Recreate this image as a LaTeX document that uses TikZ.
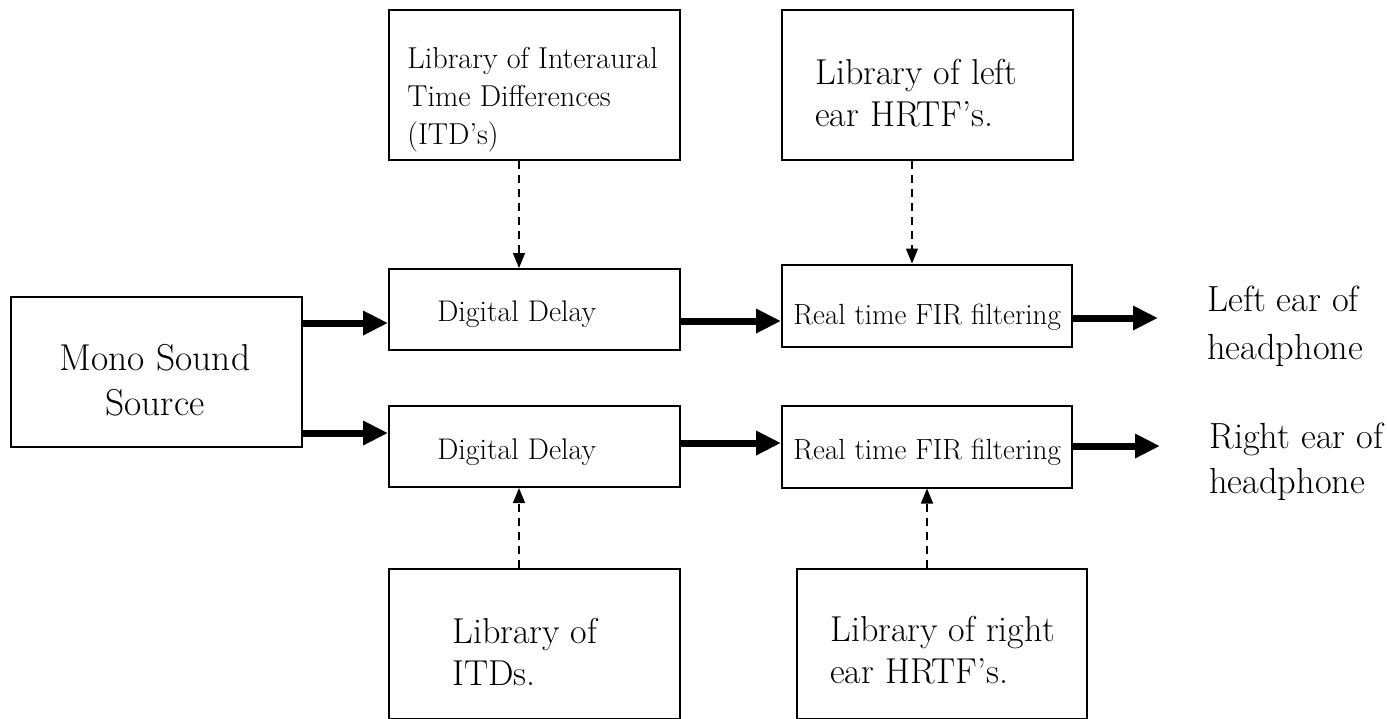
\documentclass[tikz,border=0pt]{standalone}
\usepackage{tikz}
\usetikzlibrary{arrows.meta}
\tikzset{
libbox/.style={rectangle, draw=black, line width=0.04cm, fill=none, inner sep=0pt, minimum width=5.82cm, minimum height=3cm},
delaybox/.style={rectangle, draw=black, line width=0.04cm, fill=none, inner sep=0pt, minimum width=5.82cm, minimum height=1.62cm},
firbox/.style={rectangle, draw=black, line width=0.04cm, fill=none, inner sep=0pt, minimum width=5.8cm, minimum height=1.64cm},
bigtext/.style={anchor=west, align=left, inner sep=0pt, font=\fontsize{20.5}{24}\selectfont},
midtext/.style={anchor=west, align=left, inner sep=0pt, font=\fontsize{17.2}{21.6}\selectfont},
smalltext/.style={anchor=west, inner sep=0pt, font=\fontsize{17}{18}\selectfont},
fatarrow/.style={line width=0.14cm, -{Triangle[length=0.5cm,width=0.46cm]}},
dasharrow/.style={line width=0.03cm, dash pattern=on 0.16cm off 0.12cm, -{Triangle[length=0.3cm,width=0.24cm]}},
}
\begin{document}
\begin{tikzpicture}[x=0.02cm,y=-0.02cm]
    \useasboundingbox (0,0) rectangle (1387,718);
    % boxes
    \node[libbox] at (156.5,372) (mono) {};
    \node[libbox] at (534.5,85) (itdlib) {};
    \node[libbox] at (927.5,85) (hrtfLlib) {};
    \node[libbox] at (534.5,644) (itdslib) {};
    \node[libbox] at (942,644) (hrtfRlib) {};
    \node[delaybox] at (534.5,309.5) (delayL) {};
    \node[delaybox] at (534.5,446.5) (delayR) {};
    \node[firbox] at (927,305.5) (firL) {};
    \node[firbox] at (927,446.5) (firR) {};
    \coordinate (outL) at (1158,318);
    \coordinate (outR) at (1160,446);
    % texts
    \node[bigtext, align=center, anchor=center, font=\fontsize{21.3}{25.6}\selectfont] at (155,380) (monotxt) {Mono Sound\\Source};
    \node[midtext] at (407,100) (itdlibtxt) {Library of Interaural\\Time Differences\\(ITD's)};
    \node[bigtext] at (815,93) (hrtfLtxt) {Library of left\\ear HRTF's.};
    \node[bigtext] at (452,652) (itdstxt) {Library of\\ITDs.};
    \node[bigtext] at (830,650) (hrtfRtxt) {Library of right\\ear HRTF's.};
    \node[smalltext] at (437,314) (delayLtxt) {Digital Delay};
    \node[smalltext] at (437,452) (delayRtxt) {Digital Delay};
    \node[smalltext, font=\fontsize{16.6}{18}\selectfont] at (793,317) (firLtxt) {Real time FIR filtering};
    \node[smalltext, font=\fontsize{16.6}{18}\selectfont] at (793,452) (firRtxt) {Real time FIR filtering};
    \node[bigtext, font=\fontsize{20.7}{27.3}\selectfont] at (1207,326) (leftear) {Left ear of\\headphone};
    \node[bigtext, font=\fontsize{20.7}{25.6}\selectfont] at (1209,462) (rightear) {Right ear of\\headphone};
    % signal path
     \draw[fatarrow] (mono.east |- 0,323) -- (delayL.west |- 0,323);
     \draw[fatarrow] (mono.east |- 0,433) -- (delayR.west |- 0,433);
     \draw[fatarrow] (delayL.east |- 0,321) -- (firL.west |- 0,321);
     \draw[fatarrow] (delayR.east |- 0,443) -- (firR.west |- 0,443);
     \draw[fatarrow] (firL.east |- outL) -- (outL);
     \draw[fatarrow] (firR.east |- outR) -- (outR);
    % libraries
     \draw[dasharrow] (itdlib.south -| 519,0) -- (delayL.north -| 519,0);
     \draw[dasharrow] (hrtfLlib.south -| 912,0) -- (firL.north -| 912,0);
     \draw[dasharrow] (itdslib.north -| 519,0) -- (delayR.south -| 519,0);
     \draw[dasharrow] (hrtfRlib.north -| 927,0) -- (firR.south -| 927,0);
\end{tikzpicture}
\end{document}
